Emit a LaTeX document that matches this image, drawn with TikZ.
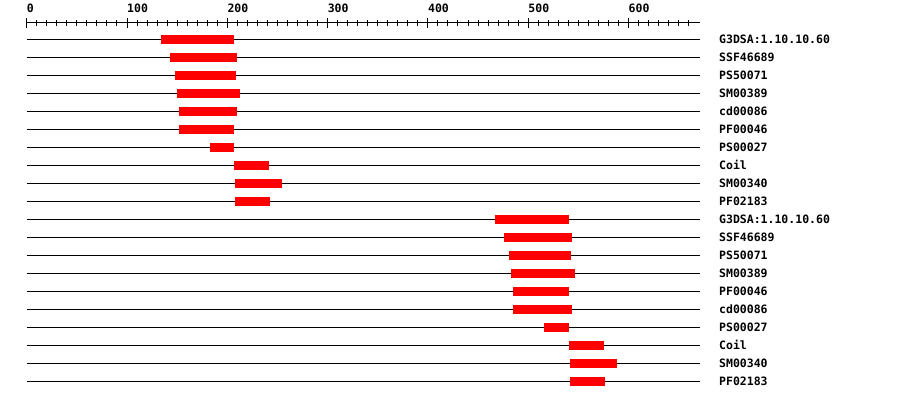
\documentclass[tikz,border=0pt]{standalone}
\usepackage{fontspec}
\setmonofont{DejaVu Sans Mono}
\usetikzlibrary{positioning}
\tikzset{>=stealth}
\tikzset{
  hitbar/.style={fill=red, draw=none},
  track/.style={line width=1pt},
  lab/.style={font=\ttfamily\bfseries\fontsize{11.5}{12}\selectfont, inner sep=0pt, anchor=base west},
}

\begin{document}
\begin{tikzpicture}[x=1pt, y=-1pt]
    \useasboundingbox (0,0) rectangle (900,400);
    \begin{scope}[xshift=26.7pt, x=1.003pt]
    % ruler
    \draw[track] (0,22.3) -- (671,22.3);
    \foreach \t in {0,10,...,660}
        \draw[track] (\t,20) -- (\t,25.7);
    \foreach \t in {0,100,...,600}
    {
        \draw[track] (\t,18) -- (\t,28.3);
        \node[lab] (t\t) at (\t,12) {\t};
    }
    
    % one line per hit
    \foreach \a/\b/\name [count=\i] in {134/207/G3DSA:1.10.10.60, 143/210/SSF46689,
        148/209/PS50071, 150/213/SM00389, 152/210/cd00086, 152/207/PF00046,
        183/207/PS00027, 207/242/Coil, 208/255/SM00340, 208/243/PF02183,
        467/541/G3DSA:1.10.10.60, 476/544/SSF46689, 481/543/PS50071,
        483/547/SM00389, 485/541/PF00046, 485/544/cd00086, 516/541/PS00027,
        541/576/Coil, 542/589/SM00340, 542/577/PF02183}
    {
        \pgfmathsetmacro{\y}{39.3+18*(\i-1)}
        \draw[track] (0,\y) -- (671,\y);
        \fill[hitbar] (\a,\y-4.5) rectangle (\b,\y+4.5);
        \node[lab] (n\i) at (690.2,\y+4) {\name};
    }
    \end{scope}
\end{tikzpicture}
\end{document}
